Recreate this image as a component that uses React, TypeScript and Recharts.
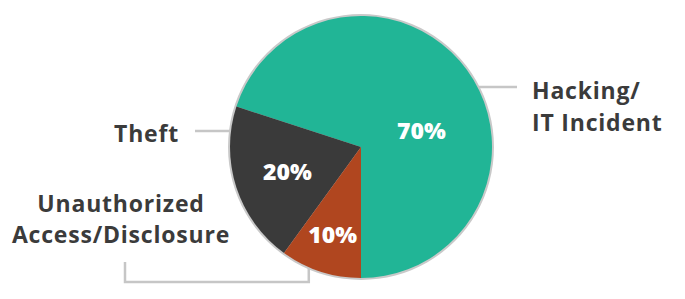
import React from 'react';
import { PieChart, Pie, Cell } from 'recharts';

// Breach causes, share of incidents (%)
const categories = ['Hacking/IT Incident', 'Theft', 'Unauthorized Access/Disclosure'];
const shares = [70, 20, 10];
const captionLines = [['Hacking/', 'IT Incident'], ['Theft'], ['Unauthorized', 'Access/Disclosure']];

const COLORS = ['#21b596', '#3a3a3a', '#b0461f'];
const TEXT = '#3b3b3b';
const LINE = '#c6c6c6';
const FONT = '"Open Sans", Lato, sans-serif';

const data = categories.map((name, i) => ({ name, value: shares[i] }));

const RAD = Math.PI / 180;
const polar = (cx: number, cy: number, r: number, angle: number) => ({
  x: cx + r * Math.cos(-angle * RAD),
  y: cy + r * Math.sin(-angle * RAD),
});

// where the percentage sits inside each slice (angle override, radius as fraction)
const pctPlacement = [
  { angle: 16, r: 0.48 },
  { angle: null, r: 0.59 },
  { angle: null, r: 0.7 },
];
// angle on the rim where each leader line starts
const leaderAngle = [27, 173, 246.7];

const captionStyle = { letterSpacing: 0.8 };

const renderLabel = (props: any) => {
  const { cx, cy, outerRadius, midAngle, index, value } = props;
  const place = pctPlacement[index];
  const p = polar(cx, cy, outerRadius * place.r, place.angle ?? midAngle);
  const rim = polar(cx, cy, outerRadius + 1, leaderAngle[index]);
  const lines = captionLines[index];

  let leader: React.ReactNode = null;
  let caption: React.ReactNode = null;
  if (index === 0) {
    leader = <line x1={rim.x} y1={rim.y} x2={cx + 156} y2={rim.y} stroke={LINE} strokeWidth={2.5} />;
    caption = (
      <text x={cx + 171} y={rim.y + 12} fill={TEXT} fontSize={23} fontWeight={700} fontFamily={FONT} style={captionStyle}>
        <tspan x={cx + 171}>{lines[0]}</tspan>
        <tspan x={cx + 171} dy={32}>{lines[1]}</tspan>
      </text>
    );
  } else if (index === 1) {
    leader = <line x1={rim.x} y1={rim.y} x2={cx - 166} y2={rim.y} stroke={LINE} strokeWidth={2.5} />;
    caption = (
      <text x={cx - 182} y={rim.y + 11} textAnchor="end" fill={TEXT} fontSize={23} fontWeight={700} fontFamily={FONT} style={captionStyle}>
        {lines[0]}
      </text>
    );
  } else {
    const bottom = cy + 135;
    leader = (
      <polyline
        points={`${rim.x},${rim.y} ${rim.x},${bottom} ${cx - 236},${bottom} ${cx - 236},${cy + 115}`}
        fill="none"
        stroke={LINE}
        strokeWidth={2.5}
      />
    );
    caption = (
      <text x={cx - 240} y={cy + 65} textAnchor="middle" fill={TEXT} fontSize={23} fontWeight={700} fontFamily={FONT} style={captionStyle}>
        <tspan x={cx - 240}>{lines[0]}</tspan>
        <tspan x={cx - 240} dy={31}>{lines[1]}</tspan>
      </text>
    );
  }

  return (
    <g>
      {leader}
      {caption}
      <text
        x={p.x}
        y={p.y}
        textAnchor="middle"
        dominantBaseline="central"
        fill="#ffffff"
        fontSize={23}
        fontWeight={800}
        fontFamily={FONT}
      >
        {`${value}%`}
      </text>
    </g>
  );
};

export default function App() {
  return (
    <div style={{ width: 685, height: 299, background: '#fff' }}>
      <style>{'body{margin:0;}'}</style>
      <PieChart width={685} height={299} margin={{ top: 0, right: 0, bottom: 0, left: 0 }}>
        {/* thin grey rim behind the slices */}
        <Pie
          data={[{ name: 'rim', value: 1 }]}
          dataKey="value"
          cx={361}
          cy={147}
          outerRadius={133}
          fill="#c9c9c9"
          stroke="none"
          isAnimationActive={false}
        />
        <Pie
          data={data}
          dataKey="value"
          cx={361}
          cy={147}
          outerRadius={131}
          startAngle={-90}
          endAngle={270}
          stroke="none"
          label={renderLabel}
          labelLine={false}
          isAnimationActive={false}
        >
          {data.map((d, i) => (
            <Cell key={d.name} fill={COLORS[i]} />
          ))}
        </Pie>
      </PieChart>
    </div>
  );
}
